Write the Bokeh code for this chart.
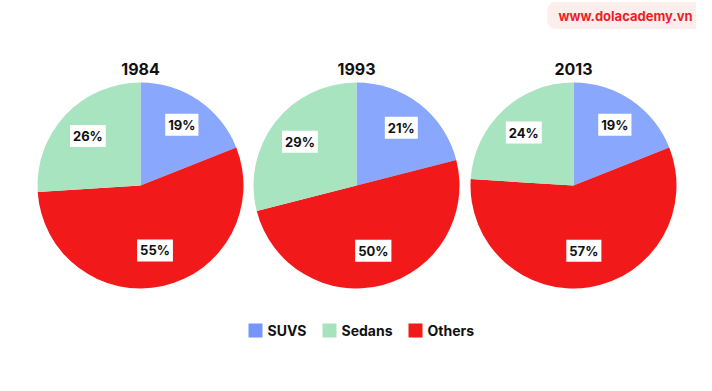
import numpy as np
from bokeh.plotting import figure
from bokeh.models import Range1d
from bokeh.core.properties import value
from bokeh.embed import file_html
from bokeh.resources import INLINE

# ---- data ----
years = ["1984", "1993", "2013"]
categories = ["SUVS", "Sedans", "Others"]
suvs = [19, 21, 19]
sedans = [26, 29, 24]
others = [55, 50, 57]
colors = {"SUVS": "#89a7fd", "Sedans": "#a8e4bf", "Others": "#f2191b"}
legend_colors = {"SUVS": "#7595fb", "Sedans": "#a6e3bd", "Others": "#f2191b"}

# ---- layout ----
W, H = 696, 375
centers_x = [140, 356, 573]
center_y = 391 - 185
R = 103
FONT = value("Inter")

p = figure(width=W, height=H, output_backend="svg", toolbar_location=None,
           x_range=Range1d(0, W), y_range=Range1d(391 - H, 391),
           min_border=0, outline_line_color=None)
p.axis.visible = False
p.grid.visible = False
p.background_fill_color = "white"
p.border_fill_color = "white"

# watermark box
p.rect(x=[627], y=[391 - 15], width=160, height=27, fill_color="#fdeeee",
       line_color=None, border_radius=8)
p.text(x=[625], y=[391 - 15], text=["www.dolacademy.vn"], text_font=FONT,
       text_font_size="13px", text_font_style="bold", text_color="#ee1d25",
       text_align="center", text_baseline="middle")

# pies: order clockwise from 12 o'clock: SUVS, Others, Sedans
for i, yr in enumerate(years):
    vals = [("SUVS", suvs[i]), ("Others", others[i]), ("Sedans", sedans[i])]
    total = sum(v for _, v in vals)
    cum = 0.0
    for name, v in vals:
        a0 = np.pi / 2 - cum / total * 2 * np.pi
        a1 = np.pi / 2 - (cum + v) / total * 2 * np.pi
        p.wedge(x=[centers_x[i]], y=[center_y], radius=R, start_angle=a0,
                end_angle=a1, direction="clock", fill_color=colors[name],
                line_color=None)
        mid = np.pi / 2 - (cum + v / 2) / total * 2 * np.pi
        rr = (0.75 - 0.0019 * v) * R
        p.text(x=[centers_x[i] + rr * np.cos(mid)], y=[center_y + rr * np.sin(mid)],
               text=[f"{v}%"], text_font=FONT, text_font_size="13px",
               text_font_style="bold", text_color="#111111",
               text_align="center", text_baseline="middle",
               background_fill_color="white", padding=3)
        cum += v
    p.text(x=[centers_x[i]], y=[391 - 68], text=[yr], text_font=FONT,
           text_font_size="16px", text_font_style="bold", text_color="#111111",
           text_align="center", text_baseline="middle")

# legend
leg_x = [255, 329, 415]
leg_y = 391 - 330
for lx, name in zip(leg_x, categories):
    p.rect(x=[lx], y=[leg_y], width=14, height=14, fill_color=legend_colors[name],
           line_color=None)
    p.text(x=[lx + 12], y=[leg_y], text=[name], text_font=FONT,
           text_font_size="14px", text_font_style="bold", text_color="#111111",
           text_align="left", text_baseline="middle")

open("out.html", "w").write(file_html(p, INLINE))
